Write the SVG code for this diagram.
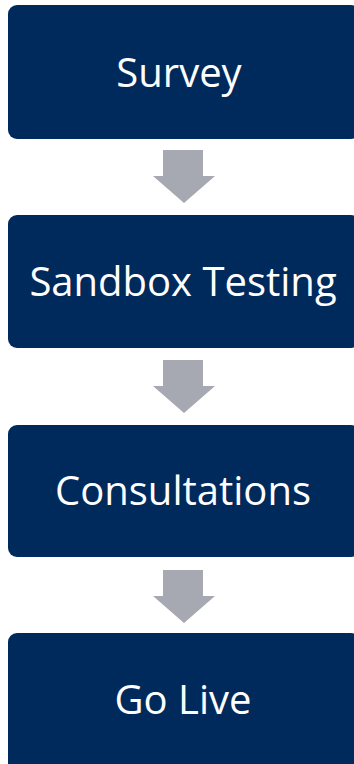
<svg xmlns="http://www.w3.org/2000/svg" width="354" height="764" viewBox="0 0 354 764">
<style>
.box{fill:#002A5C}
.lbl{fill:#FFFFFF;font-family:"Open Sans","Liberation Sans",sans-serif;font-size:40px;text-anchor:middle}
.arr{fill:#A6A9B1}
</style>
<rect width="354" height="764" fill="#FFFFFF"/>
<g id="connectors">
<polygon class="arr" points="163,150 203,150 203,176 215,176 184,203 153,176 163,176"/>
<polygon class="arr" points="163,360 203,360 203,386 215,386 184,413 153,386 163,386"/>
<polygon class="arr" points="163,570 203,570 203,596 215,596 184,623 153,596 163,596"/>
</g>
<g id="survey"><rect class="box" x="8" y="5" width="352" height="134" rx="9"/><text class="lbl" x="179" y="87">Survey</text></g>
<g id="sandbox"><rect class="box" x="8" y="215" width="352" height="133" rx="9"/><text class="lbl" x="183" y="296">Sandbox Testing</text></g>
<g id="consultations"><rect class="box" x="8" y="425" width="352" height="132" rx="9"/><text class="lbl" x="183" y="505">Consultations</text></g>
<g id="golive"><rect class="box" x="8" y="633" width="352" height="140" rx="9"/><text class="lbl" x="183" y="714">Go Live</text></g>
</svg>
